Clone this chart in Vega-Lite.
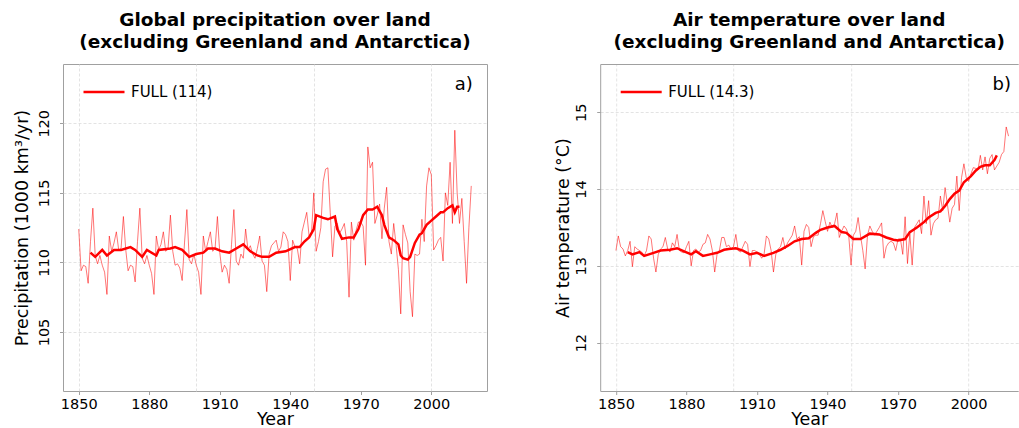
{
  "$schema": "https://vega.github.io/schema/vega-lite/v6.json",
  "autosize": {"type": "pad"},
  "padding": {"left": 12, "top": 10, "right": 0, "bottom": 0},
  "background": "white",
  "bounds": "flush",
  "spacing": 113.2,
  "config": {
    "font": "DejaVu Sans",
    "view": {"stroke": "#a0a0a0", "strokeWidth": 1},
    "title": {"font": "DejaVu Sans", "fontSize": 18.5, "fontWeight": "bold", "color": "black", "lineHeight": 22.4, "offset": 12, "anchor": "middle"},
    "axis": {
      "labelFont": "DejaVu Sans", "labelFontSize": 14.5, "labelColor": "black",
      "titleFont": "DejaVu Sans", "titleFontSize": 17.5, "titleFontWeight": "normal", "titleColor": "black",
      "domainColor": "#a0a0a0", "tickColor": "#a0a0a0", "tickSize": 3.5,
      "gridColor": "#dcdcdc", "gridDash": [3, 2], "gridWidth": 0.8
    },
    "legend": {"labelFont": "DejaVu Sans", "labelFontSize": 15, "labelColor": "black"}
  },
  "datasets": {
    "precip_annual": [
      {"year":1850,"value":112.4},{"year":1851,"value":109.4},{"year":1852,"value":109.8},{"year":1853,"value":109.7},{"year":1854,"value":108.5},
      {"year":1855,"value":111.5},{"year":1856,"value":113.9},{"year":1857,"value":110.5},{"year":1858,"value":109.9},{"year":1859,"value":110.5},
      {"year":1860,"value":109.8},{"year":1861,"value":109.3},{"year":1862,"value":107.7},{"year":1863,"value":111.9},{"year":1864,"value":110.8},
      {"year":1865,"value":111.4},{"year":1866,"value":112.2},{"year":1867,"value":110.9},{"year":1868,"value":111.0},{"year":1869,"value":113.3},
      {"year":1870,"value":110.9},{"year":1871,"value":109.4},{"year":1872,"value":109.8},{"year":1873,"value":109.7},{"year":1874,"value":108.6},
      {"year":1875,"value":111.5},{"year":1876,"value":113.9},{"year":1877,"value":110.3},{"year":1878,"value":109.9},{"year":1879,"value":110.5},
      {"year":1880,"value":109.8},{"year":1881,"value":109.2},{"year":1882,"value":107.7},{"year":1883,"value":111.9},{"year":1884,"value":110.9},
      {"year":1885,"value":111.3},{"year":1886,"value":112.2},{"year":1887,"value":110.8},{"year":1888,"value":111.0},{"year":1889,"value":113.4},
      {"year":1890,"value":110.8},{"year":1891,"value":109.8},{"year":1892,"value":109.9},{"year":1893,"value":109.6},{"year":1894,"value":108.7},
      {"year":1895,"value":111.4},{"year":1896,"value":113.8},{"year":1897,"value":110.2},{"year":1898,"value":109.9},{"year":1899,"value":110.6},
      {"year":1900,"value":109.8},{"year":1901,"value":109.3},{"year":1902,"value":107.7},{"year":1903,"value":111.9},{"year":1904,"value":110.8},
      {"year":1905,"value":111.5},{"year":1906,"value":112.2},{"year":1907,"value":110.8},{"year":1908,"value":111.0},{"year":1909,"value":113.3},
      {"year":1910,"value":110.7},{"year":1911,"value":109.3},{"year":1912,"value":109.8},{"year":1913,"value":109.5},{"year":1914,"value":108.5},
      {"year":1915,"value":111.3},{"year":1916,"value":113.8},{"year":1917,"value":110.1},{"year":1918,"value":109.8},{"year":1919,"value":110.6},
      {"year":1920,"value":110.3},{"year":1921,"value":112.4},{"year":1922,"value":110.9},{"year":1923,"value":111.2},{"year":1924,"value":110.6},
      {"year":1925,"value":110.3},{"year":1926,"value":111.0},{"year":1927,"value":111.9},{"year":1928,"value":110.1},{"year":1929,"value":109.8},
      {"year":1930,"value":107.9},{"year":1931,"value":110.6},{"year":1932,"value":111.2},{"year":1933,"value":111.4},{"year":1934,"value":111.6},
      {"year":1935,"value":110.8},{"year":1936,"value":111.1},{"year":1937,"value":112.2},{"year":1938,"value":112.0},{"year":1939,"value":111.5},
      {"year":1940,"value":108.7},{"year":1941,"value":111.6},{"year":1942,"value":111.1},{"year":1943,"value":111.0},{"year":1944,"value":109.9},
      {"year":1945,"value":112.2},{"year":1946,"value":112.9},{"year":1947,"value":113.6},{"year":1948,"value":111.9},{"year":1949,"value":112.0},
      {"year":1950,"value":115.0},{"year":1951,"value":110.8},{"year":1952,"value":111.5},{"year":1953,"value":112.5},{"year":1954,"value":115.8},
      {"year":1955,"value":116.7},{"year":1956,"value":116.8},{"year":1957,"value":113.6},{"year":1958,"value":110.4},{"year":1959,"value":112.6},
      {"year":1960,"value":112.8},{"year":1961,"value":112.1},{"year":1962,"value":112.4},{"year":1963,"value":112.8},{"year":1964,"value":111.5},
      {"year":1965,"value":107.5},{"year":1966,"value":112.9},{"year":1967,"value":111.6},{"year":1968,"value":112.3},{"year":1969,"value":112.9},
      {"year":1970,"value":112.9},{"year":1971,"value":112.6},{"year":1972,"value":109.8},{"year":1973,"value":118.3},{"year":1974,"value":116.8},
      {"year":1975,"value":117.2},{"year":1976,"value":112.8},{"year":1977,"value":113.4},{"year":1978,"value":114.2},{"year":1979,"value":111.7},
      {"year":1980,"value":113.9},{"year":1981,"value":115.4},{"year":1982,"value":111.5},{"year":1983,"value":110.6},{"year":1984,"value":112.8},
      {"year":1985,"value":111.3},{"year":1986,"value":109.5},{"year":1987,"value":106.3},{"year":1988,"value":112.7},{"year":1989,"value":112.0},
      {"year":1990,"value":111.4},{"year":1991,"value":107.9},{"year":1992,"value":106.1},{"year":1993,"value":110.6},{"year":1994,"value":110.5},
      {"year":1995,"value":110.6},{"year":1996,"value":113.1},{"year":1997,"value":111.5},{"year":1998,"value":115.5},{"year":1999,"value":116.8},
      {"year":2000,"value":116.3},{"year":2001,"value":110.9},{"year":2002,"value":111.2},{"year":2003,"value":111.6},{"year":2004,"value":111.8},
      {"year":2005,"value":110.1},{"year":2006,"value":115.0},{"year":2007,"value":114.1},{"year":2008,"value":117.2},{"year":2009,"value":112.8},
      {"year":2010,"value":119.5},{"year":2011,"value":115.0},{"year":2012,"value":112.8},{"year":2013,"value":114.6},{"year":2014,"value":111.5},
      {"year":2015,"value":108.5},{"year":2016,"value":112.5},{"year":2017,"value":115.5}
    ],
    "precip_smooth": [
      {"year":1855,"value":110.7},{"year":1857,"value":110.4},{"year":1860,"value":110.9},{"year":1862,"value":110.5},{"year":1865,"value":110.9},
      {"year":1868,"value":110.9},{"year":1872,"value":111.1},{"year":1874,"value":110.9},{"year":1877,"value":110.4},{"year":1879,"value":110.9},
      {"year":1883,"value":110.5},{"year":1884,"value":110.9},{"year":1889,"value":111.0},{"year":1891,"value":111.1},{"year":1894,"value":110.9},
      {"year":1897,"value":110.4},{"year":1900,"value":110.6},{"year":1903,"value":110.7},{"year":1905,"value":111.0},{"year":1908,"value":111.0},
      {"year":1911,"value":110.8},{"year":1914,"value":110.7},{"year":1917,"value":111.0},{"year":1920,"value":111.3},{"year":1923,"value":110.8},
      {"year":1926,"value":110.5},{"year":1928,"value":110.4},{"year":1931,"value":110.4},{"year":1934,"value":110.7},{"year":1938,"value":110.8},
      {"year":1942,"value":111.1},{"year":1944,"value":111.1},{"year":1946,"value":111.5},{"year":1948,"value":111.8},{"year":1950,"value":112.4},
      {"year":1951,"value":113.4},{"year":1954,"value":113.2},{"year":1956,"value":113.1},{"year":1959,"value":113.3},{"year":1960,"value":112.4},
      {"year":1962,"value":111.7},{"year":1965,"value":111.8},{"year":1967,"value":111.8},{"year":1969,"value":112.4},{"year":1971,"value":113.4},
      {"year":1973,"value":113.8},{"year":1975,"value":113.8},{"year":1977,"value":114.0},{"year":1979,"value":113.4},{"year":1980,"value":112.7},
      {"year":1982,"value":111.8},{"year":1984,"value":111.6},{"year":1986,"value":111.3},{"year":1987,"value":110.5},{"year":1988,"value":110.3},
      {"year":1990,"value":110.2},{"year":1991,"value":110.4},{"year":1993,"value":111.4},{"year":1995,"value":112.0},{"year":1996,"value":112.1},
      {"year":1998,"value":112.7},{"year":2000,"value":113.0},{"year":2002,"value":113.3},{"year":2004,"value":113.6},{"year":2005,"value":113.6},
      {"year":2007,"value":113.9},{"year":2009,"value":114.1},{"year":2010,"value":113.6},{"year":2011,"value":114.0},{"year":2012,"value":114.0}
    ],
    "temp_annual": [
      {"year":1850,"value":13.20},{"year":1851,"value":13.39},{"year":1852,"value":13.25},{"year":1853,"value":13.22},{"year":1854,"value":13.13},
      {"year":1855,"value":13.20},{"year":1856,"value":13.32},{"year":1857,"value":12.99},{"year":1858,"value":13.25},{"year":1859,"value":13.22},
      {"year":1860,"value":13.20},{"year":1861,"value":13.18},{"year":1862,"value":13.13},{"year":1863,"value":13.20},{"year":1864,"value":13.39},
      {"year":1865,"value":13.35},{"year":1866,"value":13.10},{"year":1867,"value":12.92},{"year":1868,"value":13.15},{"year":1869,"value":13.22},
      {"year":1870,"value":13.25},{"year":1871,"value":13.37},{"year":1872,"value":13.22},{"year":1873,"value":13.18},{"year":1874,"value":13.30},
      {"year":1875,"value":13.25},{"year":1876,"value":13.41},{"year":1877,"value":13.20},{"year":1878,"value":13.18},{"year":1879,"value":13.17},
      {"year":1880,"value":13.25},{"year":1881,"value":13.32},{"year":1882,"value":13.00},{"year":1883,"value":13.20},{"year":1884,"value":13.22},
      {"year":1885,"value":13.18},{"year":1886,"value":13.20},{"year":1887,"value":13.28},{"year":1888,"value":13.30},{"year":1889,"value":13.41},
      {"year":1890,"value":13.35},{"year":1891,"value":13.20},{"year":1892,"value":12.92},{"year":1893,"value":13.15},{"year":1894,"value":13.20},
      {"year":1895,"value":13.37},{"year":1896,"value":13.37},{"year":1897,"value":13.25},{"year":1898,"value":13.27},{"year":1899,"value":13.22},
      {"year":1900,"value":13.25},{"year":1901,"value":13.41},{"year":1902,"value":13.20},{"year":1903,"value":13.18},{"year":1904,"value":13.25},
      {"year":1905,"value":13.32},{"year":1906,"value":13.28},{"year":1907,"value":12.99},{"year":1908,"value":13.20},{"year":1909,"value":13.20},
      {"year":1910,"value":13.18},{"year":1911,"value":13.15},{"year":1912,"value":13.10},{"year":1913,"value":13.15},{"year":1914,"value":13.39},
      {"year":1915,"value":13.35},{"year":1916,"value":13.20},{"year":1917,"value":12.92},{"year":1918,"value":13.15},{"year":1919,"value":13.22},
      {"year":1920,"value":13.25},{"year":1921,"value":13.37},{"year":1922,"value":13.22},{"year":1923,"value":13.30},{"year":1924,"value":13.35},
      {"year":1925,"value":13.40},{"year":1926,"value":13.52},{"year":1927,"value":13.35},{"year":1928,"value":13.38},{"year":1929,"value":13.01},
      {"year":1930,"value":13.45},{"year":1931,"value":13.54},{"year":1932,"value":13.50},{"year":1933,"value":13.25},{"year":1934,"value":13.38},
      {"year":1935,"value":13.40},{"year":1936,"value":13.40},{"year":1937,"value":13.55},{"year":1938,"value":13.72},{"year":1939,"value":13.58},
      {"year":1940,"value":13.45},{"year":1941,"value":13.57},{"year":1942,"value":13.50},{"year":1943,"value":13.55},{"year":1944,"value":13.69},
      {"year":1945,"value":13.37},{"year":1946,"value":13.45},{"year":1947,"value":13.52},{"year":1948,"value":13.48},{"year":1949,"value":13.40},
      {"year":1950,"value":13.01},{"year":1951,"value":13.40},{"year":1952,"value":13.45},{"year":1953,"value":13.63},{"year":1954,"value":13.40},
      {"year":1955,"value":13.20},{"year":1956,"value":12.96},{"year":1957,"value":13.40},{"year":1958,"value":13.52},{"year":1959,"value":13.45},
      {"year":1960,"value":13.40},{"year":1961,"value":13.45},{"year":1962,"value":13.50},{"year":1963,"value":13.56},{"year":1964,"value":13.10},
      {"year":1965,"value":13.25},{"year":1966,"value":13.30},{"year":1967,"value":13.32},{"year":1968,"value":13.30},{"year":1969,"value":13.20},
      {"year":1970,"value":13.35},{"year":1971,"value":13.35},{"year":1972,"value":13.15},{"year":1973,"value":13.64},{"year":1974,"value":13.03},
      {"year":1975,"value":13.42},{"year":1976,"value":13.01},{"year":1977,"value":13.50},{"year":1978,"value":13.55},{"year":1979,"value":13.60},
      {"year":1980,"value":13.42},{"year":1981,"value":13.91},{"year":1982,"value":13.55},{"year":1983,"value":13.85},{"year":1984,"value":13.40},
      {"year":1985,"value":13.55},{"year":1986,"value":13.60},{"year":1987,"value":13.62},{"year":1988,"value":13.91},{"year":1989,"value":13.72},
      {"year":1990,"value":14.02},{"year":1991,"value":13.80},{"year":1992,"value":13.57},{"year":1993,"value":13.75},{"year":1994,"value":13.80},
      {"year":1995,"value":14.17},{"year":1996,"value":13.72},{"year":1997,"value":14.15},{"year":1998,"value":14.33},{"year":1999,"value":14.15},
      {"year":2000,"value":14.10},{"year":2001,"value":14.20},{"year":2002,"value":14.28},{"year":2003,"value":14.27},{"year":2004,"value":14.25},
      {"year":2005,"value":14.44},{"year":2006,"value":14.25},{"year":2007,"value":14.42},{"year":2008,"value":14.20},{"year":2009,"value":14.40},
      {"year":2010,"value":14.45},{"year":2011,"value":14.25},{"year":2012,"value":14.30},{"year":2013,"value":14.35},{"year":2014,"value":14.45},
      {"year":2015,"value":14.49},{"year":2016,"value":14.81},{"year":2017,"value":14.69}
    ],
    "temp_smooth": [
      {"year":1855,"value":13.18},{"year":1857,"value":13.15},{"year":1860,"value":13.18},{"year":1862,"value":13.13},{"year":1866,"value":13.17},
      {"year":1869,"value":13.20},{"year":1873,"value":13.21},{"year":1876,"value":13.23},{"year":1879,"value":13.19},{"year":1882,"value":13.15},
      {"year":1884,"value":13.19},{"year":1887,"value":13.13},{"year":1890,"value":13.15},{"year":1893,"value":13.17},{"year":1896,"value":13.21},
      {"year":1898,"value":13.22},{"year":1901,"value":13.23},{"year":1904,"value":13.20},{"year":1907,"value":13.15},{"year":1910,"value":13.17},
      {"year":1913,"value":13.13},{"year":1917,"value":13.17},{"year":1920,"value":13.21},{"year":1923,"value":13.26},{"year":1926,"value":13.32},
      {"year":1929,"value":13.35},{"year":1932,"value":13.36},{"year":1935,"value":13.43},{"year":1937,"value":13.47},{"year":1940,"value":13.50},
      {"year":1943,"value":13.52},{"year":1946,"value":13.44},{"year":1948,"value":13.43},{"year":1951,"value":13.35},{"year":1954,"value":13.35},
      {"year":1958,"value":13.42},{"year":1962,"value":13.41},{"year":1965,"value":13.37},{"year":1968,"value":13.34},{"year":1970,"value":13.33},
      {"year":1973,"value":13.35},{"year":1975,"value":13.44},{"year":1978,"value":13.50},{"year":1981,"value":13.57},{"year":1983,"value":13.63},
      {"year":1986,"value":13.69},{"year":1988,"value":13.71},{"year":1990,"value":13.78},{"year":1992,"value":13.87},{"year":1994,"value":13.94},
      {"year":1996,"value":13.98},{"year":1998,"value":14.09},{"year":2001,"value":14.17},{"year":2003,"value":14.24},{"year":2005,"value":14.29},
      {"year":2007,"value":14.31},{"year":2009,"value":14.31},{"year":2011,"value":14.38},{"year":2012,"value":14.44}
    ]
  },
  "hconcat": [
    {
      "title": {"text": ["Global precipitation over land", "(excluding Greenland and Antarctica)"]},
      "width": 424,
      "height": 327,
      "layer": [
        {
          "data": {"name": "precip_annual"},
          "mark": {"type": "line", "color": "#ff0000", "strokeWidth": 0.9, "opacity": 0.6},
          "encoding": {
            "x": {"field": "year", "type": "quantitative",
              "scale": {"domain": [1843.3, 2023.7], "nice": false, "zero": false},
              "axis": {"orient": "bottom", "values": [1850, 1880, 1910, 1940, 1970, 2000], "format": "d", "grid": false, "title": "Year", "labelPadding": 2.5, "titlePadding": 0, "domain": false}},
            "y": {"field": "value", "type": "quantitative",
              "scale": {"domain": [100.76, 124.26], "nice": false, "zero": false},
              "axis": {"orient": "left", "values": [105, 110, 115, 120], "grid": true, "labelAngle": -90, "labelAlign": "center", "labelBaseline": "bottom", "labelPadding": 8, "title": "Precipitation (1000 km³/yr)", "titlePadding": 5, "domain": false}}
          }
        },
        {
          "data": {"name": "precip_smooth"},
          "mark": {"type": "line", "strokeWidth": 2.5},
          "encoding": {
            "x": {"field": "year", "type": "quantitative",
              "axis": {"orient": "top", "values": [1850, 1900, 1950, 2000], "grid": true, "labels": false, "ticks": false, "domain": false, "title": null}},
            "y": {"field": "value", "type": "quantitative", "axis": null},
            "color": {"datum": "FULL (114)", "type": "nominal", "scale": {"range": ["#ff0000"]},
              "legend": {"title": null, "orient": "none", "legendX": 19, "legendY": 6, "symbolType": "stroke", "symbolSize": 1681, "symbolStrokeWidth": 2.5, "labelOffset": 5, "padding": 0}}
          }
        },
        {
          "data": {"values": [{"label": "a)"}]},
          "mark": {"type": "text", "align": "right", "baseline": "alphabetic", "fontSize": 18, "font": "DejaVu Sans", "color": "black"},
          "encoding": {
            "x": {"datum": 2017.7, "type": "quantitative", "axis": null},
            "y": {"datum": 122.39, "type": "quantitative", "axis": null},
            "text": {"field": "label"}
          }
        }
      ],
      "resolve": {"axis": {"x": "independent", "y": "independent"}}
    },
    {
      "title": {"text": ["Air temperature over land", "(excluding Greenland and Antarctica)"]},
      "width": 418,
      "height": 327,
      "view": {"stroke": null},
      "layer": [
        {
          "data": {"name": "temp_annual"},
          "mark": {"type": "line", "color": "#ff0000", "strokeWidth": 0.9, "opacity": 0.6},
          "encoding": {
            "x": {"field": "year", "type": "quantitative",
              "scale": {"domain": [1843.3, 2021.1], "nice": false, "zero": false},
              "axis": {"orient": "bottom", "values": [1850, 1880, 1910, 1940, 1970, 2000], "format": "d", "grid": false, "title": "Year", "labelPadding": 2.5, "titlePadding": 0, "domain": true}},
            "y": {"field": "value", "type": "quantitative",
              "scale": {"domain": [11.37, 15.63], "nice": false, "zero": false},
              "axis": {"orient": "left", "values": [12, 13, 14, 15], "format": "d", "grid": true, "labelAngle": -90, "labelAlign": "center", "labelBaseline": "bottom", "labelPadding": 8, "title": "Air temperature (°C)", "titlePadding": 1, "domain": true}}
          }
        },
        {
          "data": {"name": "temp_smooth"},
          "mark": {"type": "line", "strokeWidth": 2.5},
          "encoding": {
            "x": {"field": "year", "type": "quantitative",
              "axis": {"orient": "top", "values": [1850, 1900, 1950, 2000], "grid": true, "labels": false, "ticks": false, "domain": true, "title": null}},
            "y": {"field": "value", "type": "quantitative", "axis": null},
            "color": {"datum": "FULL (14.3)", "type": "nominal", "scale": {"range": ["#ff0000"]},
              "legend": {"title": null, "orient": "none", "legendX": 19, "legendY": 6, "symbolType": "stroke", "symbolSize": 1681, "symbolStrokeWidth": 2.5, "labelOffset": 5, "padding": 0}}
          }
        },
        {
          "data": {"values": [{"label": "b)"}]},
          "mark": {"type": "text", "align": "right", "baseline": "alphabetic", "fontSize": 18, "font": "DejaVu Sans", "color": "black"},
          "encoding": {
            "x": {"datum": 2018.0, "type": "quantitative", "axis": null},
            "y": {"datum": 15.29, "type": "quantitative", "axis": null},
            "text": {"field": "label"}
          }
        }
      ],
      "resolve": {"axis": {"x": "independent", "y": "independent"}}
    }
  ],
  "resolve": {"scale": {"color": "independent"}}
}
